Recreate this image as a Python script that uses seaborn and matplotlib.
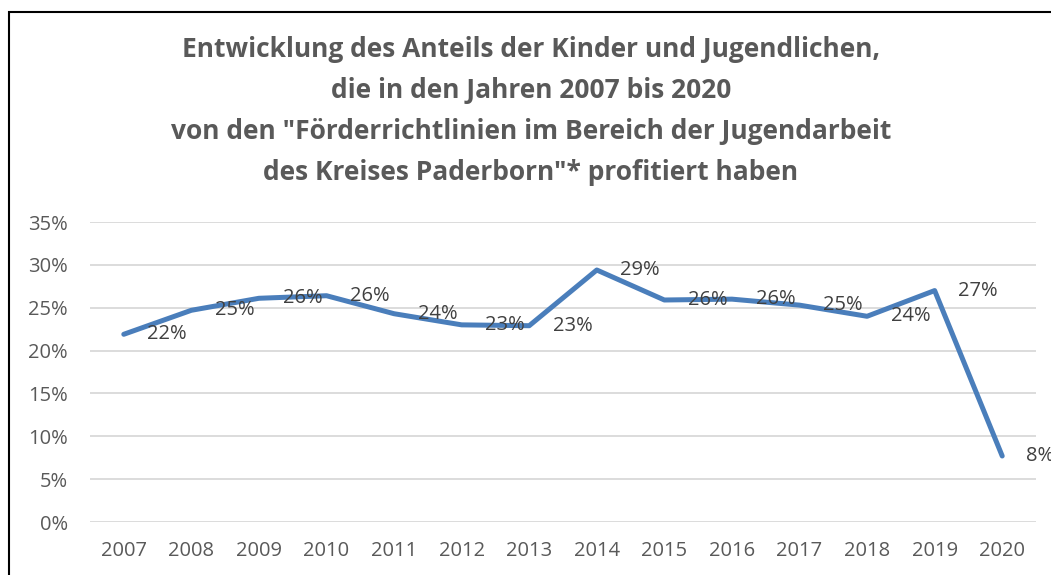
"""plot.py - share of children and young people funded, 2007-2020."""
import matplotlib.pyplot as plt
from matplotlib.patches import Rectangle
from matplotlib.ticker import PercentFormatter
import seaborn as sns

years = ["2007", "2008", "2009", "2010", "2011", "2012", "2013",
         "2014", "2015", "2016", "2017", "2018", "2019", "2020"]
share = [21.9, 24.7, 26.1, 26.4, 24.3, 23.0, 22.9,
         29.4, 25.9, 26.0, 25.3, 24.0, 27.0, 7.7]
y_ticks = [0, 5, 10, 15, 20, 25, 30, 35]

title = ("Entwicklung des Anteils der Kinder und Jugendlichen,\n"
         "die in den Jahren 2007 bis 2020\n"
         "von den \"Förderrichtlinien im Bereich der Jugendarbeit\n"
         "des Kreises Paderborn\"* profitiert haben")

sns.set_theme(style="white")
plt.rcParams["font.family"] = ["Open Sans", "DejaVu Sans"]

fig = plt.figure(figsize=(10.51, 5.75), dpi=100)
ax = fig.add_axes([90 / 1051, 53 / 575, 946 / 1051, 300 / 575])

pos = list(range(len(years)))
sns.lineplot(x=pos, y=share, ax=ax, color="#4A7EBB", linewidth=3.6,
             solid_joinstyle="round", solid_capstyle="round")

for x, v in zip(pos, share):
    ax.annotate(f"{round(v):d}%", (x, v), xytext=(17, 0), textcoords="offset points",
                ha="left", va="center", fontsize=14.5, color="#404040")

ax.set_xlim(-0.5, len(years) - 0.5)
ax.set_ylim(0, 35)
ax.set_xticks(pos)
ax.set_xticklabels(years)
ax.set_yticks(y_ticks)
ax.yaxis.set_major_formatter(PercentFormatter(decimals=0))
ax.grid(axis="y", color="#D9D9D9", linewidth=1.3)
ax.set_axisbelow(True)
for s in ax.spines.values():
    s.set_visible(False)
ax.tick_params(axis="both", length=0, labelsize=14.5, labelcolor="#595959")
ax.tick_params(axis="y", pad=16)
ax.tick_params(axis="x", pad=14)

fig.text(531 / 1051, 1 - 111 / 575, title, ha="center", va="center",
         fontsize=19, fontweight="bold", color="#595959", linespacing=1.66)

fig.patches.append(Rectangle((9 / 1051, -0.1), 1.2, 1 - 12 / 575 + 0.1,
                             transform=fig.transFigure, fill=False,
                             edgecolor="black", linewidth=1.5))

fig.savefig("out.png", dpi=100)
